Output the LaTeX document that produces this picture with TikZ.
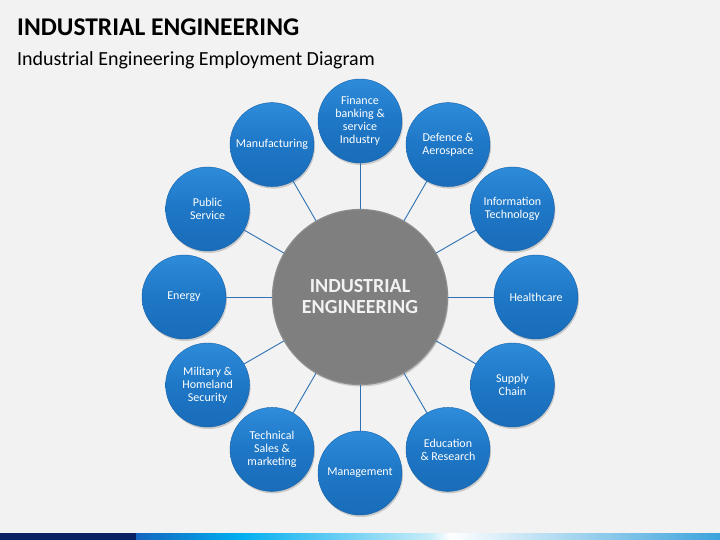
\documentclass[tikz,border=0pt]{standalone}
\usepackage{fontspec}
\setmainfont{Carlito}
\usetikzlibrary{shadows}
\definecolor{bg}{HTML}{F2F2F2}
\definecolor{ballA}{HTML}{2E8CDA}
\definecolor{ballB}{HTML}{1E77C6}
\definecolor{ballC}{HTML}{196CB9}
\definecolor{ballD}{HTML}{1562AA}
\definecolor{linec}{HTML}{2E72B4}
\definecolor{hubA}{HTML}{8C8C8C}
\definecolor{hubB}{HTML}{7F7F7F}
\definecolor{navy}{HTML}{0A2263}
\definecolor{stripA}{HTML}{1565C0}
\definecolor{stripB}{HTML}{00AEEF}
\definecolor{stripC}{HTML}{C8ECF8}
\definecolor{stripD}{HTML}{3BA3DC}
\begin{document}
\begin{tikzpicture}[x=1pt,y=-1pt,
  ball/.style={circle, minimum size=84pt, inner sep=0pt, align=center,
    top color=ballA, bottom color=ballC, middle color=ballB,
    draw=ballD, line width=0.4pt,
    text=white, font=\fontsize{12}{13}\selectfont,
    drop shadow={shadow xshift=1pt, shadow yshift=-2pt, opacity=0.35}},
  hub/.style={circle, minimum size=175pt, inner sep=0pt, align=center,
    fill=hubB, draw=hubA, line width=1.2pt,
    text=bg, font=\bfseries\fontsize{20}{21}\selectfont,
    drop shadow={shadow xshift=1pt, shadow yshift=-2pt, opacity=0.35}},
  spoke/.style={draw=linec, line width=0.9pt}]
\useasboundingbox (0,0) rectangle (720,540);
\fill[bg] (0,0) rectangle (720,540);
% title
\node[anchor=base west, inner sep=0pt, font=\bfseries\fontsize{25.5}{28}\selectfont] (title) at (17,36) {INDUSTRIAL ENGINEERING};
\node[anchor=base west, inner sep=0pt, font=\fontsize{20}{22}\selectfont] (subtitle) at (17,65.5) {Industrial Engineering Employment Diagram};
% bottom strip
\fill[navy] (0,533) rectangle (136,540);
\shade[left color=stripA, right color=stripB] (136,533) rectangle (240,540);
\shade[left color=stripB, right color=stripC] (240,533) rectangle (430,540);
\shade[left color=stripC, right color=white] (430,533) rectangle (450,540);
\shade[left color=white, right color=stripD] (450,533) rectangle (720,540);
% hub
\node[hub] (hub) at (360,297) {INDUSTRIAL\\ENGINEERING};
% outer nodes
\node[ball] (fin) at (360,121) {Finance\\banking \&\\service\\Industry};
\node[ball] (def) at (448,144.6) {Defence \&\\Aerospace};
\node[ball] (it) at (512.4,209) {Information\\Technology};
\node[ball] (hc) at (536,297) {Healthcare};
\node[ball] (sc) at (512.4,385) {Supply\\Chain};
\node[ball] (edu) at (448,449.4) {Education\\\& Research};
\node[ball] (man) at (360,473) {Management};
\node[ball] (tech) at (272,449.4) {Technical\\Sales \&\\marketing};
\node[ball] (mil) at (207.6,385) {Military \&\\Homeland\\Security};
\node[ball] (en) at (184,297) {Energy};
\node[ball] (pub) at (207.6,209) {Public\\Service};
\node[ball] (mfg) at (272,144.6) {Manufacturing};
% spokes
\foreach \n in {fin,def,it,hc,sc,edu,man,tech,mil,en,pub,mfg}
  \draw[spoke] (hub) -- (\n);
\end{tikzpicture}
\end{document}
